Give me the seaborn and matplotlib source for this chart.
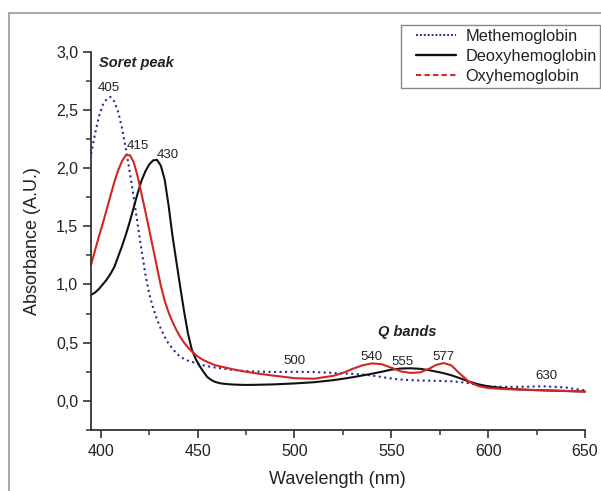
import matplotlib
matplotlib.use("Agg")
import matplotlib.pyplot as plt
from matplotlib.lines import Line2D
from matplotlib.patches import Rectangle
from matplotlib.legend_handler import HandlerLine2D
from matplotlib.ticker import MultipleLocator, FuncFormatter
import seaborn as sns
import pandas as pd

# ---------------- data ----------------
wavelength = [395, 397, 399, 401, 403, 405, 407, 409, 411, 413,
              415, 417, 419, 421, 423, 425, 427, 429, 431, 433,
              435, 437, 439, 441, 443, 445, 447, 449, 451, 453,
              455, 457, 459,
              462, 466, 470, 475, 480, 490, 500, 510, 520, 525,
              530, 535, 540, 545, 550, 555, 560, 565, 570, 573,
              577, 581, 585, 590, 595, 600, 610, 620, 630, 640, 650]

methemoglobin = [2.12, 2.29, 2.44, 2.54, 2.59, 2.61, 2.57, 2.48, 2.34, 2.16,
                 1.96, 1.75, 1.52, 1.30, 1.09, 0.92, 0.80, 0.70, 0.62, 0.55,
                 0.49, 0.45, 0.41, 0.38, 0.36, 0.345, 0.335, 0.325, 0.315, 0.305,
                 0.298, 0.292, 0.287,
                 0.28, 0.27, 0.263, 0.256, 0.252, 0.248, 0.25, 0.248, 0.24, 0.236,
                 0.232, 0.226, 0.218, 0.205, 0.192, 0.183, 0.178, 0.175, 0.173, 0.172,
                 0.17, 0.168, 0.163, 0.152, 0.135, 0.123, 0.12, 0.122, 0.125, 0.115, 0.09]

deoxyhemoglobin = [0.91, 0.93, 0.96, 1.00, 1.04, 1.09, 1.15, 1.24, 1.33, 1.43,
                   1.54, 1.66, 1.78, 1.89, 1.97, 2.03, 2.065, 2.07, 2.02, 1.90,
                   1.68, 1.42, 1.20, 0.98, 0.77, 0.58, 0.44, 0.36, 0.30, 0.25,
                   0.205, 0.18, 0.163,
                   0.15, 0.143, 0.139, 0.137, 0.138, 0.142, 0.15, 0.16, 0.178, 0.19,
                   0.203, 0.218, 0.233, 0.25, 0.268, 0.278, 0.28, 0.275, 0.262, 0.252,
                   0.238, 0.22, 0.197, 0.167, 0.142, 0.125, 0.105, 0.095, 0.09, 0.085, 0.08]

oxyhemoglobin = [1.17, 1.29, 1.41, 1.52, 1.64, 1.76, 1.88, 1.98, 2.06, 2.11,
                 2.11, 2.05, 1.93, 1.78, 1.63, 1.47, 1.31, 1.15, 0.99, 0.86,
                 0.76, 0.68, 0.61, 0.55, 0.50, 0.46, 0.425, 0.395, 0.37, 0.35,
                 0.335, 0.32, 0.307,
                 0.295, 0.28, 0.265, 0.25, 0.237, 0.215, 0.195, 0.19, 0.215, 0.24,
                 0.275, 0.305, 0.322, 0.315, 0.285, 0.253, 0.24, 0.245, 0.28, 0.308,
                 0.325, 0.305, 0.24, 0.165, 0.127, 0.11, 0.10, 0.095, 0.09, 0.085, 0.08]

series_names = ["Methemoglobin", "Deoxyhemoglobin", "Oxyhemoglobin"]

peak_labels = ["405", "415", "430", "500", "540", "555", "577", "630"]
peak_label_x = [404, 419, 434.6, 500, 540, 556, 577, 630]
peak_label_y = [2.69, 2.19, 2.11, 0.345, 0.38, 0.335, 0.38, 0.21]

x_ticks = [400, 450, 500, 550, 600, 650]
y_ticks = [0.0, 0.5, 1.0, 1.5, 2.0, 2.5, 3.0]

# ---------------- styling ----------------
sns.set_theme(style="ticks")
plt.rcParams["font.family"] = ["Liberation Sans", "DejaVu Sans"]

colors = {"Methemoglobin": "#2a2a96", "Deoxyhemoglobin": "#111111", "Oxyhemoglobin": "#d42525"}
styles = {"Methemoglobin": ":", "Deoxyhemoglobin": "-", "Oxyhemoglobin": "-"}

df = pd.DataFrame({
    "Wavelength": wavelength * 3,
    "Absorbance": methemoglobin + deoxyhemoglobin + oxyhemoglobin,
    "Species": sum([[n] * len(wavelength) for n in series_names], []),
})

fig = plt.figure(figsize=(6.01, 4.91), dpi=100)
ax = fig.add_axes([90.7 / 601, 1 - 430 / 491, (585 - 90.7) / 601, (430 - 51.5) / 491])

for name in series_names:
    sub = df[df["Species"] == name]
    sns.lineplot(data=sub, x="Wavelength", y="Absorbance", ax=ax,
                 color=colors[name], linestyle=styles[name], linewidth=1.5,
                 sort=False, legend=False, clip_on=False)

ax.set_xlim(394.8, 650)
ax.set_ylim(-0.25, 3.0)
ax.set_xticks(x_ticks)
ax.set_yticks(y_ticks)
ax.xaxis.set_minor_locator(MultipleLocator(25))
ax.yaxis.set_minor_locator(MultipleLocator(0.25))
ax.yaxis.set_major_formatter(FuncFormatter(lambda v, p: f"{v:.1f}".replace(".", ",")))

for s in ["top", "right"]:
    ax.spines[s].set_visible(False)
for s in ["left", "bottom"]:
    ax.spines[s].set_color("#333333")
    ax.spines[s].set_linewidth(1.3)

ax.tick_params(which="major", direction="out", length=6, width=1.2, color="#333333",
               labelsize=11.5, labelcolor="#222222")
ax.tick_params(axis="y", which="major", pad=3)
ax.tick_params(axis="x", which="major", pad=4)
ax.tick_params(which="minor", direction="out", length=3.5, width=1.1, color="#333333")

ax.set_xlabel("Wavelength (nm)", fontsize=13, color="#222222", labelpad=9)
ax.set_ylabel("Absorbance (A.U.)", fontsize=13, color="#222222", labelpad=11)

# annotations
for t, x, y in zip(peak_labels, peak_label_x, peak_label_y):
    ax.text(x, y, t, fontsize=9.5, ha="center", va="center", color="#222222")
ax.text(399, 2.9, "Soret peak", fontsize=10.5, fontweight="bold", fontstyle="italic",
        ha="left", va="center", color="#222222")
ax.text(558, 0.59, "Q bands", fontsize=10.5, fontweight="bold", fontstyle="italic",
        ha="center", va="center", color="#222222")

# legend
handles = [
    Line2D([0], [0], color=colors["Methemoglobin"], linestyle=(0, (1, 1)), linewidth=1.4),
    Line2D([0], [0], color=colors["Deoxyhemoglobin"], linestyle="-", linewidth=1.7),
    Line2D([0], [0], color=colors["Oxyhemoglobin"], linestyle=(0, (2.5, 1.6)), linewidth=1.5),
]
hmap = {h: HandlerLine2D(xpad=0.73) for h in handles}
leg = fig.legend(handles, series_names, loc="upper left",
                 bbox_to_anchor=(400.7 / 601, 1 - 25 / 491), bbox_transform=fig.transFigure,
                 fontsize=11.8, frameon=True, fancybox=False, framealpha=1,
                 edgecolor="#888888", borderpad=0.22, labelspacing=0.32,
                 handlelength=3.17, handletextpad=0.55, borderaxespad=0,
                 handler_map=hmap)
leg.get_frame().set_linewidth(1.0)
for txt in leg.get_texts():
    txt.set_color("#222222")

# outer gray frame (clipped by figure edges)
fig.patches.append(Rectangle((8.5 / 601, -0.2), 1.2, 1 - 13 / 491 + 0.2,
                             transform=fig.transFigure, fill=False,
                             edgecolor="#aaaaaa", linewidth=1.5))

fig.savefig("out.png", dpi=100)
